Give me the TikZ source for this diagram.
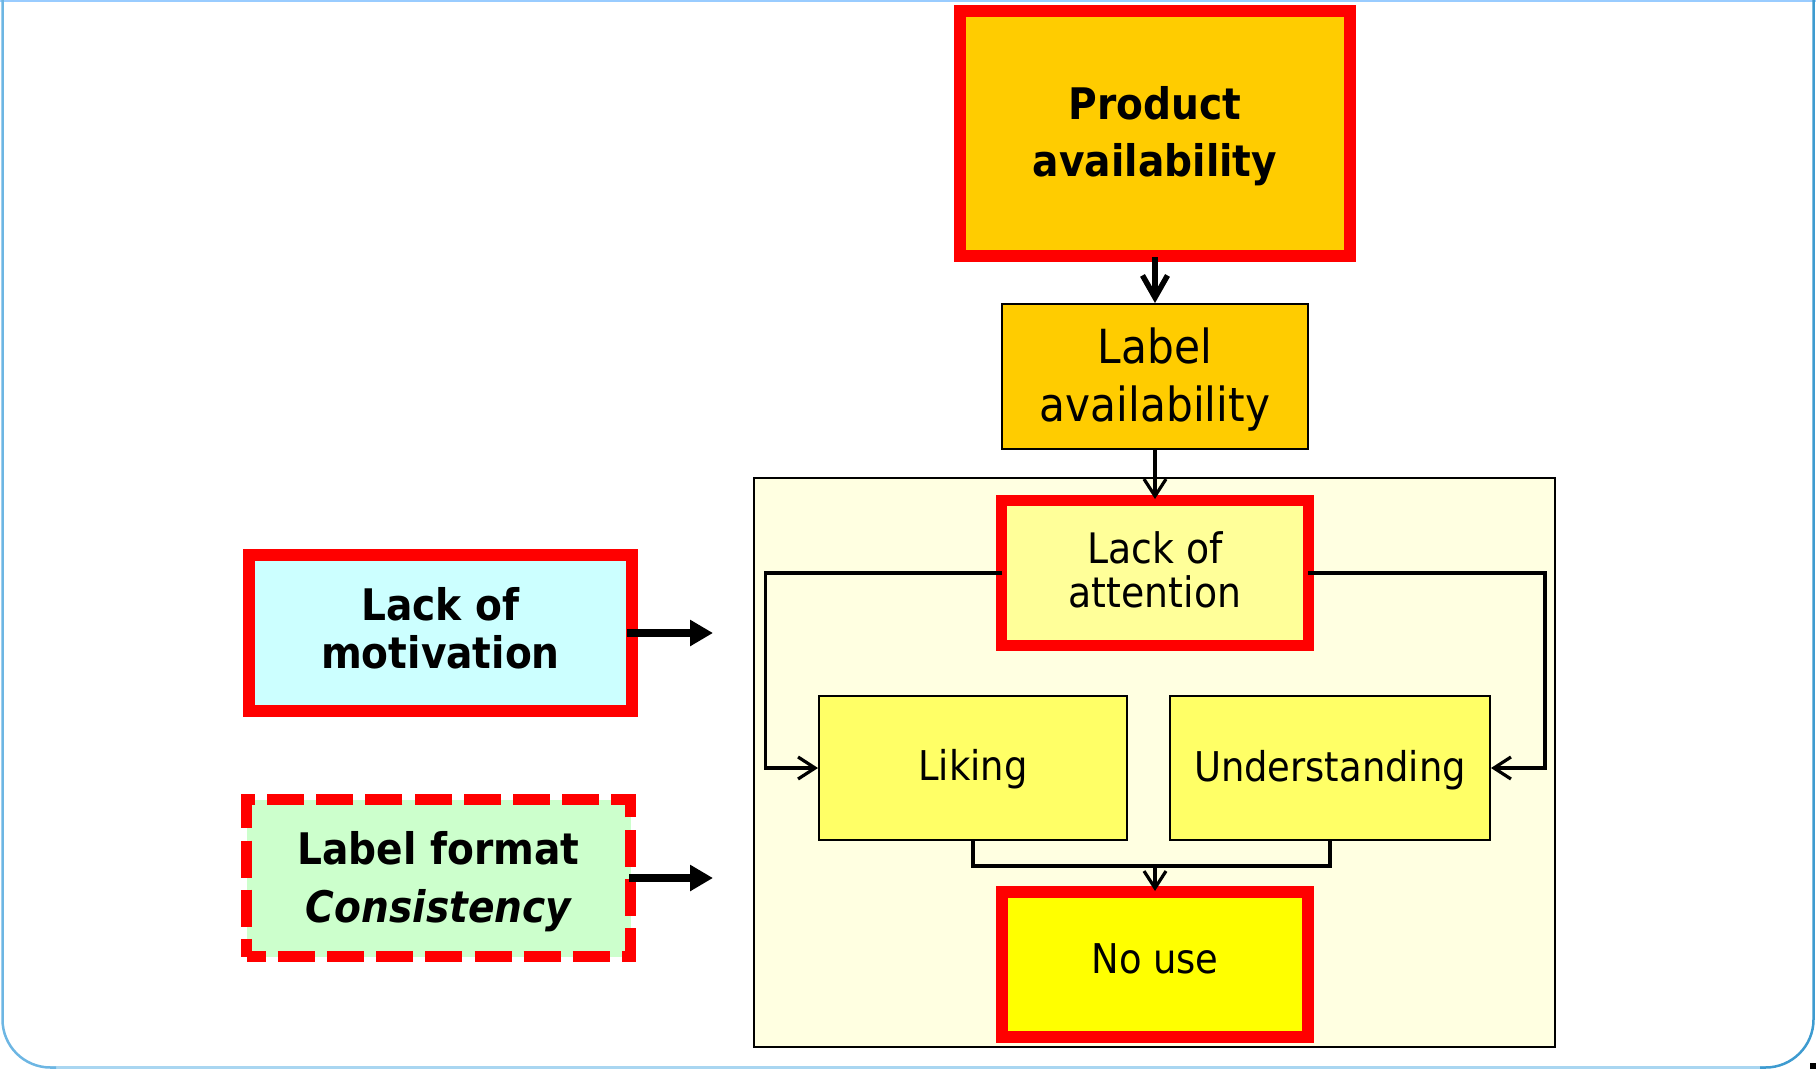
\documentclass[tikz,border=0pt]{standalone}
\usepackage{fontspec}
\setmainfont{DejaVu Sans}[FakeStretch=0.9]
\usetikzlibrary{arrows.meta,calc}

\definecolor{alert}{HTML}{FF0000}
\definecolor{gold}{HTML}{FFCC00}
\definecolor{cream}{HTML}{FFFFE1}
\definecolor{paleyellow}{HTML}{FFFF99}
\definecolor{midyellow}{HTML}{FFFF66}
\definecolor{brightyellow}{HTML}{FFFF00}
\definecolor{paleaqua}{HTML}{CCFFFF}
\definecolor{palemint}{HTML}{CCFFCC}
\definecolor{frametop}{HTML}{99CCFF}
\definecolor{frameleft}{HTML}{6DB6E3}
\definecolor{framebottom}{HTML}{A9D6F1}
\definecolor{frameright}{HTML}{3E9BD0}

% two centred lines with a fixed distance between their baselines
\newcommand\boxlines[3]{\vbox{\baselineskip=#1\relax\lineskiplimit=-\maxdimen
  \halign{\hfil##\hfil\cr#2\cr#3\cr}}}

\begin{document}
\begin{tikzpicture}[x=1pt,y=-1pt,
  panel/.style={rectangle, inner sep=0pt, text=black},
  redframe/.style={panel, draw=alert, line width=12pt},
  thinframe/.style={panel, draw=black, line width=2pt},
  conn/.style={draw=black, line width=3.2pt, -{Straight Barb[length=17pt,width=22pt]}},
  rail/.style={draw=black, line width=3.2pt},
  heavy/.style={draw=black, line width=5.5pt, -{Straight Barb[length=22pt,width=25pt]}},
  push/.style={draw=black, line width=8pt, -{Triangle[length=23pt,width=25pt]}},
  txtR/.style={font=\fontsize{#1}{#1}\selectfont},
  txtB/.style={font=\fontsize{#1}{#1}\selectfont\bfseries},
]
\useasboundingbox (0,0) rectangle (1816,1069);

% slide frame
\draw[frametop, line width=2.5pt] (0,1.2) -- (1816,1.2);
\draw[framebottom, line width=2.5pt] (50,1067.5) -- (1766,1067.5);
\draw[frameleft, line width=2.5pt, rounded corners=48pt] (2.5,0) -- (2.5,1067.5) -- (56,1067.5);
\draw[frameright, line width=2.5pt, rounded corners=48pt] (1813.5,0) -- (1813.5,1067.5) -- (1760,1067.5);
\fill[black] (1810,1063) rectangle (1816,1069);

% upper chain
\node[redframe, fill=gold, minimum width=390pt, minimum height=245pt,
      txtB=43.5, text height=88.7pt, text depth=2pt] (prod) at (1155,133.5)
      {\boxlines{57pt}{Product}{availability}};
\node[thinframe, fill=gold, minimum width=306pt, minimum height=145pt,
      txtR=47, text height=92.3pt, text depth=2pt] (lab) at (1155,376.5)
      {\boxlines{58pt}{Label}{availability}};

% panel holding the attention model
\node[panel, draw=black, line width=1.8pt, fill=cream,
      minimum width=801pt, minimum height=569pt] (box) at (1154.5,762.5) {};
\node[redframe, line width=11pt, fill=paleyellow, minimum width=307pt, minimum height=145pt,
      txtR=42, text height=74.6pt, text depth=6pt] (loa) at (1155,573)
      {\boxlines{44pt}{Lack of}{attention}};
\node[thinframe, fill=midyellow, minimum width=308pt, minimum height=144pt,
      txtR=41, text height=29.9pt, text depth=4pt] (lik) at (973,768) {Liking};
\node[thinframe, fill=midyellow, minimum width=320pt, minimum height=144pt,
      txtR=41, text height=29.9pt, text depth=3pt] (und) at (1330,768) {Understanding};
\node[redframe, fill=brightyellow, minimum width=306pt, minimum height=145pt,
      txtR=41, text height=29.9pt, text depth=12pt] (nouse) at (1155,964.5) {No use};

% influencing factors on the left
\node[redframe, fill=paleaqua, minimum width=383pt, minimum height=156pt,
      txtB=43.5, text height=79.7pt, text depth=8pt] (lom) at (440.5,633)
      {\boxlines{48pt}{Lack of}{motivation}};
\node[redframe, line width=11pt, dash pattern=on 37pt off 12.2pt, dash phase=18pt,
      fill=palemint, minimum width=384pt, minimum height=157pt,
      txtB=43.5, text height=89.7pt, text depth=0pt] (fmt) at (438.5,878)
      {\boxlines{58pt}{Label format}{\itshape Consistency}};

% connectors
\draw[heavy, shorten <=-5pt] (prod) -- (lab);
\draw[conn, shorten >=-4pt] (lab) -- (loa);

\coordinate (lrail) at ($(box.west)+(12,0)$);
\coordinate (rrail) at ($(box.east)+(-11,0)$);
\draw[conn, shorten <=-6pt] (loa.west) -| (lrail) |- (lik.west);
\draw[conn, shorten <=-6pt] (loa.east) -| (rrail) |- (und.east);

\coordinate (jy) at ($(lik.south)+(0,25)$);
\coordinate (jn) at (jy -| nouse.north);
\draw[rail] (lik.south) -- (jy) -| (und.south);
\draw[conn, shorten >=-5pt] (jn) -- (nouse.north);

\coordinate (lomtip) at ($(lom.east)+(75,0)$);
\coordinate (fmttip) at ($(fmt.east)+(77,0)$);
\draw[push, shorten <=-11pt] (lom.east) -- (lomtip);
\draw[push, shorten <=-7pt] (fmt.east) -- (fmttip);
\end{tikzpicture}
\end{document}
